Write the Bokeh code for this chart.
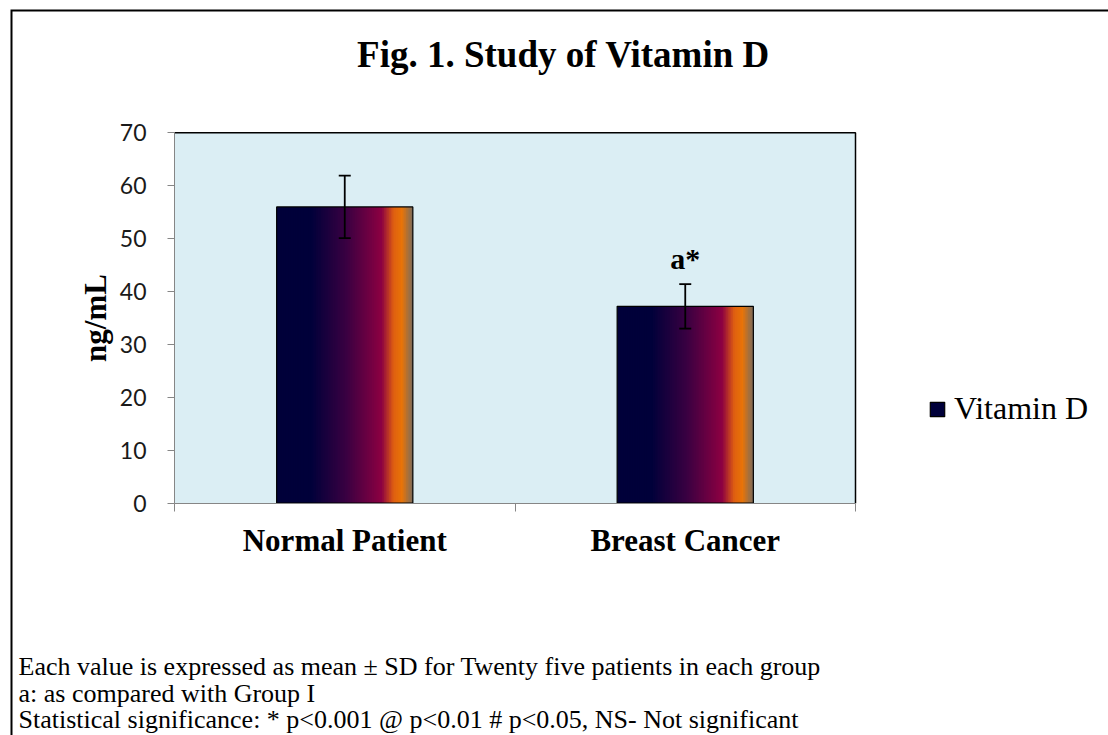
import numpy as np
from bokeh.plotting import figure
from bokeh.models import (ColumnDataSource, Range1d, FixedTicker, Whisker, TeeHead,
                          Legend, LegendItem, Label)
from bokeh.core.properties import value
from bokeh.embed import file_html
from bokeh.resources import INLINE

# ---------------- data ----------------
categories = ["Normal Patient", "Breast Cancer"]
means = [56.0, 37.2]
sds = [5.9, 4.2]
sig_labels = ["", "a*"]
y_ticks = [0, 10, 20, 30, 40, 50, 60, 70]
series_name = "Vitamin D"
title_text = "Fig. 1. Study of Vitamin D"
y_label = "ng/mL"
notes = [
    "Each value is expressed as mean ± SD for Twenty five patients in each group",
    "a: as compared with Group I",
    "Statistical significance: * p<0.001 @ p<0.01 # p<0.05, NS- Not significant",
]

# ---------------- layout / styles ----------------
SERIF = "Liberation Serif"
W, H = 1108, 735
FRAME_L, FRAME_T = 10, 9                  # outer figure border on canvas
PLOT_L, PLOT_R, PLOT_T, PLOT_B = 174.0, 855.0, 132.3, 502.7   # chart area in px
Y_MAX = y_ticks[-1]
N_CAT = len(categories)

sx = (PLOT_R - PLOT_L) / N_CAT
sy = (PLOT_B - PLOT_T) / Y_MAX
x_start = -(PLOT_L - FRAME_L) / sx
x_end = x_start + (W - FRAME_L) / sx
y_end = Y_MAX + (PLOT_T - FRAME_T) / sy
y_start = y_end - (H - FRAME_T) / sy

BAR_W = 0.40
N_STRIPS = 80
STOPS = [
    (0.00, (0x00, 0x00, 0x3a)),
    (0.25, (0x00, 0x00, 0x3a)),
    (0.52, (0x3c, 0x00, 0x42)),
    (0.77, (0x8c, 0x00, 0x42)),
    (0.86, (0xe0, 0x60, 0x10)),
    (0.92, (0xe8, 0x74, 0x08)),
    (0.97, (0xa0, 0x70, 0x40)),
    (1.00, (0x7c, 0x6a, 0x5a)),
]


def grad(t):
    for (t0, c0), (t1, c1) in zip(STOPS[:-1], STOPS[1:]):
        if t0 <= t <= t1:
            f = 0 if t1 == t0 else (t - t0) / (t1 - t0)
            c = [int(round(a + (b - a) * f)) for a, b in zip(c0, c1)]
            return "#%02x%02x%02x" % tuple(c)
    return "#%02x%02x%02x" % STOPS[-1][1]


def canvas_label(text, cx, cy, **kw):
    """Label placed in canvas pixels (top-left origin)."""
    try:
        return Label(text=text, x=cx, y=cy, x_units="canvas", y_units="canvas", **kw)
    except Exception:
        return Label(text=text, x=cx - FRAME_L, y=H - cy, x_units="screen",
                     y_units="screen", **kw)


xs = [i + 0.5 for i in range(N_CAT)]

# gradient strips for each bar
L, R, T, B, C = [], [], [], [], []
for xc, m in zip(xs, means):
    x0 = xc - BAR_W / 2
    s = BAR_W / N_STRIPS
    for k in range(N_STRIPS):
        l = x0 + k * s
        r = min(l + 1.8 * s, xc + BAR_W / 2)
        L.append(l); R.append(r); T.append(m); B.append(0)
        C.append(grad((k + 0.5) / N_STRIPS))
strip_src = ColumnDataSource(dict(left=L, right=R, top=T, bottom=B, color=C))

bar_src = ColumnDataSource(dict(
    x=xs, top=means,
    upper=[m + s for m, s in zip(means, sds)],
    lower=[m - s for m, s in zip(means, sds)],
    lab=sig_labels,
))

p = figure(width=W, height=H,
           x_range=Range1d(x_start, x_end), y_range=Range1d(y_start, y_end),
           output_backend="svg", toolbar_location=None, title=None,
           min_border_left=FRAME_L, min_border_right=0,
           min_border_top=FRAME_T, min_border_bottom=0,
           background_fill_color="white", border_fill_color="white")
p.outline_line_color = None
p.outline_line_alpha = 0
p.outline_line_width = 0
p.xgrid.visible = False
p.ygrid.visible = False

# outer border: left and top edges only (the frame clips it to 2px)
p.line(x=[x_start, x_start, x_end], y=[y_start, y_end, y_end],
       line_color="black", line_width=4)

# chart area
p.quad(left=[0], right=[N_CAT], bottom=[0], top=[Y_MAX],
       fill_color="#dbeef4", line_color=None)
p.line(x=[0, N_CAT, N_CAT], y=[Y_MAX, Y_MAX, 0], line_color="black", line_width=1.5)

strip_r = p.quad(left="left", right="right", top="top", bottom="bottom",
                 fill_color="color", line_color=None, source=strip_src)
outline_r = p.vbar(x="x", top="top", width=BAR_W, fill_color=None,
                   line_color="black", line_width=1.2, source=bar_src)

wh = Whisker(base="x", upper="upper", lower="lower", source=bar_src,
             line_color="black", line_width=1.8, level="annotation",
             upper_head=TeeHead(size=12, line_color="black", line_width=1.8),
             lower_head=TeeHead(size=12, line_color="black", line_width=1.8))
p.add_layout(wh)

p.text(x="x", y="upper", text="lab", source=bar_src, y_offset=-26,
       text_align="center", text_baseline="alphabetic",
       text_font=value(SERIF), text_font_style="bold", text_font_size="30px",
       text_color="black")

legend = Legend(items=[LegendItem(label=series_name, renderers=[strip_r, outline_r], index=0)],
                location=(928 - FRAME_L, H - 427), margin=0, padding=0,
                border_line_color=None, background_fill_alpha=0,
                glyph_width=18, glyph_height=18, label_standoff=8, label_height=18,
                label_text_font=SERIF, label_text_font_size="32px",
                label_text_color="black")
p.add_layout(legend, "center")

# axes
AX = "#868686"
p.yaxis.fixed_location = 0
p.yaxis.bounds = (0, Y_MAX)
p.yaxis.ticker = FixedTicker(ticks=y_ticks)
p.yaxis.axis_line_color = AX
p.yaxis.major_tick_line_color = AX
p.yaxis.major_tick_out = 7
p.yaxis.major_tick_in = 0
p.yaxis.minor_tick_line_color = None
p.yaxis.major_label_standoff = 21
p.yaxis.major_label_text_font = "Lato"
p.yaxis.major_label_text_font_size = "23px"
p.yaxis.major_label_text_color = "#1a1a1a"
p.yaxis.axis_label = y_label
p.yaxis.axis_label_text_font = SERIF
p.yaxis.axis_label_text_font_style = "bold"
p.yaxis.axis_label_text_font_size = "31px"
p.yaxis.axis_label_text_color = "black"
p.yaxis.axis_label_standoff = 4

p.xaxis.fixed_location = 0
p.xaxis.bounds = (0, N_CAT)
p.xaxis.ticker = FixedTicker(ticks=xs, minor_ticks=list(range(N_CAT + 1)))
p.xaxis.major_label_overrides = {x: c for x, c in zip(xs, categories)}
p.xaxis.axis_line_color = AX
p.xaxis.major_tick_line_color = None
p.xaxis.major_tick_out = 0
p.xaxis.major_tick_in = 0
p.xaxis.minor_tick_line_color = AX
p.xaxis.minor_tick_out = 8
p.xaxis.minor_tick_in = 0
p.xaxis.major_label_standoff = 12
p.xaxis.major_label_text_font = SERIF
p.xaxis.major_label_text_font_style = "bold"
p.xaxis.major_label_text_font_size = "31px"
p.xaxis.major_label_text_color = "black"

# title and footnotes
p.add_layout(canvas_label(title_text, 563, 54, text_align="center",
                          text_baseline="alphabetic", text_font=SERIF,
                          text_font_style="bold", text_font_size="37px",
                          text_color="black"))
for note, by in zip(notes, [666, 693, 719]):
    p.add_layout(canvas_label(note, 18, by, text_align="left",
                              text_baseline="alphabetic", text_font=SERIF,
                              text_font_size="26px", text_color="black"))

# white cover along the right edge of the canvas (no right border in the figure)
p.line(x=[x_end, x_end], y=[y_start, y_end - 2.5 / sy],
       line_color="white", line_width=4)

open("out.html", "w").write(file_html(p, INLINE))
